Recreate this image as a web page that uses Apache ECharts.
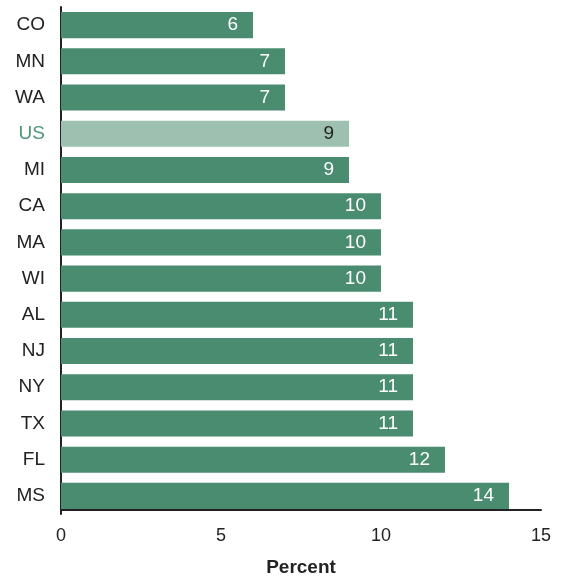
<!DOCTYPE html>
<html>
<head>
<meta charset="utf-8">
<script src="https://cdn.jsdelivr.net/npm/echarts@6/dist/echarts.min.js"></script>
<style>
  html, body { margin: 0; padding: 0; background: #fff; }
  #chart { width: 567px; height: 577px; }
</style>
</head>
<body>
<div id="chart"></div>
<script>
  // categories top to bottom
  var states = ['CO', 'MN', 'WA', 'US', 'MI', 'CA', 'MA', 'WI', 'AL', 'NJ', 'NY', 'TX', 'FL', 'MS']
  var percent = [6, 7, 7, 9, 9, 10, 10, 10, 11, 11, 11, 11, 12, 14]
  var xTicks = [0, 5, 10, 15]
  var highlight = 'US'

  var green = '#4a8c6f'
  var lightGreen = '#9dc0b0'

  var myChart = echarts.init(document.getElementById('chart'))
  var option = {
    animation: false,
    grid: {
      left: 61,
      right: 26,
      top: 7,
      bottom: 63,
      containLabel: false,
      outerBoundsMode: 'none'
    },
    xAxis: {
      type: 'value',
      min: xTicks[0],
      max: xTicks[xTicks.length - 1],
      interval: 5,
      offset: -4,
      name: 'Percent',
      nameLocation: 'middle',
      nameGap: 48,
      nameTextStyle: {
        fontFamily: 'Liberation Sans',
        fontWeight: 'bold',
        fontSize: 19,
        color: '#222'
      },
      axisLine: { show: true, lineStyle: { color: '#222', width: 2 } },
      axisTick: { show: false },
      splitLine: { show: false },
      axisLabel: {
        margin: 17,
        fontFamily: 'Liberation Sans',
        fontSize: 18,
        color: '#222'
      }
    },
    yAxis: {
      type: 'category',
      inverse: true,
      data: states,
      axisLine: { show: true, lineStyle: { color: '#222', width: 2 } },
      axisTick: { show: false },
      axisLabel: {
        margin: 16,
        fontFamily: 'Liberation Sans',
        fontSize: 19,
        color: function (v) {
          return v === highlight ? '#4b9676' : '#222'
        }
      }
    },
    series: [
      {
        type: 'bar',
        barCategoryGap: '28%',
        data: percent.map(function (v, i) {
          var isUS = states[i] === highlight
          return {
            value: v,
            itemStyle: { color: isUS ? lightGreen : green },
            label: { color: isUS ? '#222' : '#fff' }
          }
        }),
        label: {
          show: true,
          position: 'insideRight',
          distance: 15,
          fontFamily: 'Liberation Sans',
          fontSize: 19
        }
      }
    ]
  }
  myChart.setOption(option)
</script>
</body>
</html>
